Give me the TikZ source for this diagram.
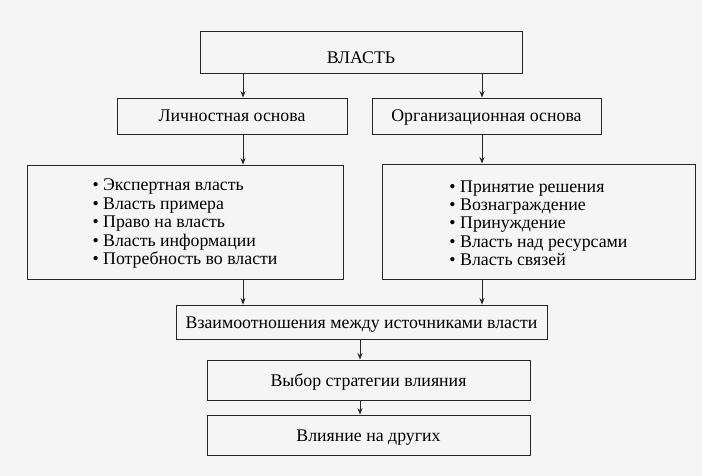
\documentclass[tikz,border=0pt]{standalone}
\usepackage{fontspec}
\setmainfont{Liberation Serif}
\usetikzlibrary{arrows.meta}
\begin{document}
\begin{tikzpicture}[x=1pt,y=-1pt,
  box/.style={draw=black!85,line width=0.9pt,inner sep=0pt,font=\fontsize{17.8}{18.4}\selectfont},
  onebox/.style={box,text height=12pt,text depth=0pt},
  listbox/.style={box,align=left},
  arr/.style={draw=black!85,line width=0.8pt,-{Stealth[length=6.5pt,width=5pt]}}]
\fill[black!4] (0,0) rectangle (702,476);
\useasboundingbox (0,0) rectangle (702,476);
\coordinate (cL) at (243,0);
\coordinate (cR) at (482,0);
\coordinate (cM) at (360,0);
\node[box,text height=23pt,text depth=0pt,minimum width=322pt,minimum height=42pt] (vlast) at (361,52) {ВЛАСТЬ};
\node[onebox,minimum width=230pt,minimum height=36pt] (lich) at (232,116) {Личностная основа};
\node[onebox,minimum width=229pt,minimum height=36pt] (org) at (486.5,116) {Организационная основа};
\node[listbox,minimum width=316pt,minimum height=114pt] (left) at (185,222) {\raisebox{0pt}[15pt][0pt]{}• Экспертная власть\\• Власть примера\\• Право на власть\\• Власть информации\\• Потребность во власти};
\node[listbox,minimum width=313pt,minimum height=115pt] (right) at (538.5,221.5) {\raisebox{0pt}[15pt][0pt]{}• Принятие решения\\• Вознаграждение\\• Принуждение\\• Власть над ресурсами\\• Власть связей};
\node[onebox,minimum width=371pt,minimum height=34pt] (vzaim) at (361.5,322) {Взаимоотношения между источниками власти};
\node[onebox,minimum width=323pt,minimum height=40pt] (vybor) at (368.5,380) {Выбор стратегии влияния};
\node[onebox,minimum width=323pt,minimum height=40pt] (vliy) at (368.5,435) {Влияние на других};
\draw[arr] (vlast.south -| cL) -- (lich.north -| cL);
\draw[arr] (vlast.south -| cR) -- (org.north -| cR);
\draw[arr] (lich.south -| cL) -- (left.north -| cL);
\draw[arr] (org.south -| cR) -- (right.north -| cR);
\draw[arr] (left.south -| cL) -- (vzaim.north -| cL);
\draw[arr] (right.south -| cR) -- (vzaim.north -| cR);
\draw[arr] (vzaim.south -| cM) -- (vybor.north -| cM);
\draw[arr] (vybor.south -| cM) -- (vliy.north -| cM);
\end{tikzpicture}
\end{document}
